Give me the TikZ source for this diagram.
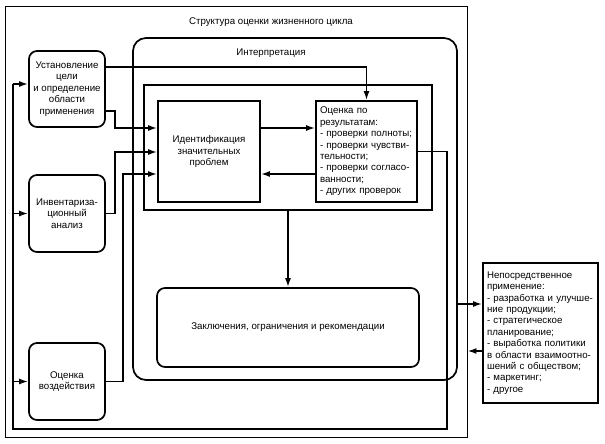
\documentclass[tikz,border=0pt]{standalone}
\usepackage{fontspec}
\setmainfont{Liberation Sans}
\usetikzlibrary{arrows.meta}

\newcommand{\linew}{1.7pt}
\tikzset{
    rbox/.style={draw, line width=\linew, rounded corners=8pt, align=center, inner sep=2pt},
    sbox/.style={draw, line width=\linew, inner sep=2pt},
    outerframe/.style={draw, line width=0.9pt, inner sep=0pt},
    arr/.style={line width=\linew, -{Latex[length=9pt,width=6pt]}},
    ln/.style={line width=\linew},
}
\newcommand{\rn}{\node[rbox]}
\newcommand{\sn}{\node[sbox]}

\begin{document}
\begin{tikzpicture}[x=1pt, y=-1pt, font=\fontsize{9.7}{11.4}\selectfont]
        \useasboundingbox (0,0) rectangle (605,444);

        % frames
        \node[outerframe, minimum width=462pt, minimum height=431pt] (lca) at (236,221.5) {};
        \node (lcatitle) at (271,22) {Структура оценки жизненного цикла};
        \rn[rounded corners=13pt, minimum width=324pt, minimum height=342pt] (interp) at (295,209) {};
        \node (interptitle) at (271,53) {Интерпретация};
        \sn[minimum width=288pt, minimum height=125pt] (inner) at (288,147.5) {};

        % phases
        \rn[minimum width=76pt, minimum height=76pt] (goal) at (67,89)
            {Установление\\цели\\и определение\\области\\применения};
        \rn[minimum width=76pt, minimum height=77pt] (inv) at (67,213.5)
            {Инвентариза-\\ционный\\анализ};
        \rn[minimum width=76pt, minimum height=77pt] (impact) at (67,381.5)
            {Оценка\\воздействия};

        % interpretation
        \sn[minimum width=102pt, minimum height=101pt, align=center] (ident) at (209,151.5)
            {Идентификация\\значительных\\проблем};
        \sn[minimum width=101pt, minimum height=101pt, inner sep=4pt, text width=93pt, align=left] (results) at (366.5,151.5)
            {Оценка по\\результатам:\\- проверки полноты;\\- проверки чувстви-\\тельности;\\- проверки согласо-\\ванности;\\- других проверок};
        \rn[minimum width=262pt, minimum height=79pt] (concl) at (288,327.5)
            {Заключения, ограничения и рекомендации};

        % application
        \sn[minimum width=115pt, minimum height=140pt, inner sep=4pt, text width=107pt, align=left] (apply) at (540.5,333)
            {Непосредственное\\применение:\\- разработка и улучше-\\ние продукции;\\- стратегическое\\планирование;\\- выработка политики\\в области взаимоотно-\\шений с обществом;\\- маркетинг;\\- другое};

        \coordinate (fb) at (13,0);

        \draw[arr] (goal.east |- 0,67) -| (results.north);
        \draw[arr] (goal.east |- 0,111) -| (115,128) -- (ident.west |- 0,128);
        \draw[arr] (inv.east) -| (115,152) -- (ident.west |- 0,152);
        \draw[arr] (impact.east) -| (123,174) -- (ident.west |- 0,174);
        \draw[arr] (ident.east |- 0,128) -- (results.west |- 0,128);
        \draw[arr] (results.west |- 0,174) -- (ident.east |- 0,174);
        \draw[arr] (inner.south) -- (concl.north);

        \draw[ln] (results.east) -| (447,429) -| (fb |- 0,84);
        \draw[arr] (fb |- 0,84) -- (goal.west |- 0,84);
        \draw[arr] (fb |- inv.west) -- (inv.west);
        \draw[arr] (fb |- impact.west) -- (impact.west);

        \draw[arr] (interp.east |- 0,304) -- (apply.west |- 0,304);
        \draw[arr] (apply.west |- 0,351) -- (lca.east |- 0,351);
    \end{tikzpicture}
\end{document}
